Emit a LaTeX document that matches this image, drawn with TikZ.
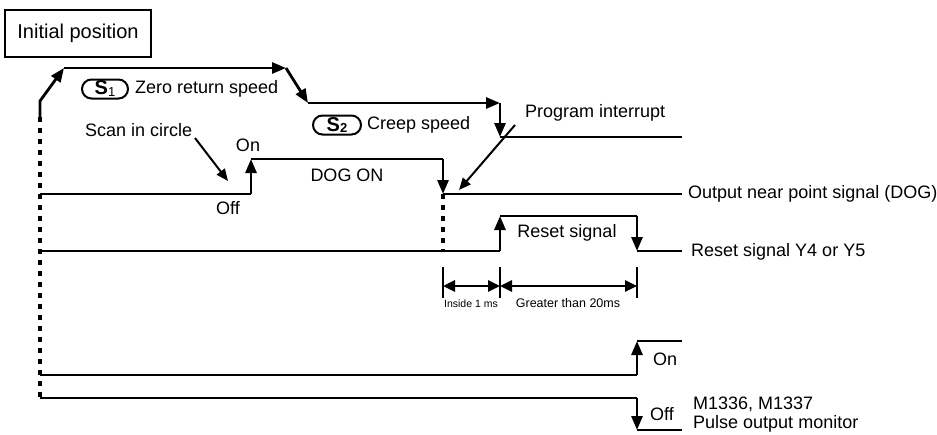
\documentclass[tikz,border=0pt]{standalone}
\usepackage{fontspec}
\setmainfont{Liberation Sans}
\usetikzlibrary{arrows.meta}
\begin{document}
\begin{tikzpicture}[x=1pt,y=-1pt,
  wave/.style={line width=2.8pt, line cap=butt, line join=miter},
  arr/.style={-{Triangle[length=14pt,width=11pt]}},
  darr/.style={{Triangle[length=12pt,width=11pt]}-{Triangle[length=12pt,width=11pt]}},
  dotline/.style={line width=3.2pt, dash pattern=on 5pt off 6pt},
  ptr/.style={line width=2pt, -{Triangle[length=12pt,width=10pt]}},
  lbl/.style={font=\fontsize{18}{20}\selectfont, inner sep=0pt},
  pill/.style={draw, line width=2pt, rounded corners=9.5pt, minimum width=46pt, minimum height=19pt, inner sep=0pt, font=\fontsize{20}{20}\selectfont},
]
\useasboundingbox (0,0) rectangle (937,434);

% initial position box
\node[draw, line width=1.8pt, minimum width=146pt, minimum height=47pt, inner sep=0pt,
  font=\fontsize{20}{22}\selectfont] (init) at (78,33.5) {Initial position};

% speed profile
\coordinate (p0) at (40,117);
\coordinate (p1) at (40,101);
\coordinate (p2) at (64,68);
\coordinate (p3) at (286,68);
\coordinate (p4) at (308,103);
\coordinate (p5) at (500,103);
\coordinate (p6) at (500,137);
\coordinate (p7) at (682,137);
\draw[wave,arr] (p0)--(p1)--(p2);
\draw[wave,arr] (p2)--(p3);
\draw[wave,arr] (p3)--(p4);
\draw[wave,arr] (p4)--(p5);
\draw[wave,arr] (p5)--(p6);
\draw[wave] (p6)--(p7);

% DOG
\coordinate (d0) at (40,194);
\coordinate (d1) at (251,194);
\coordinate (d2) at (251,159);
\coordinate (d3) at (443,159);
\coordinate (d4) at (443,194);
\coordinate (d5) at (682,194);
\draw[wave] (d0)--(d1);
\draw[wave,arr] (d1)--(d2);
\draw[wave] (d2)--(d3);
\draw[wave,arr] (d3)--(d4);
\draw[wave] (d4)--(d5);

% reset
\coordinate (r0) at (40,251);
\coordinate (r1) at (500,251);
\coordinate (r2) at (500,216);
\coordinate (r3) at (637,216);
\coordinate (r4) at (637,251);
\coordinate (r5) at (682,251);
\draw[wave] (r0)--(r1);
\draw[wave,arr] (r1)--(r2);
\draw[wave] (r2)--(r3);
\draw[wave,arr] (r3)--(r4);
\draw[wave] (r4)--(r5);

% on row
\coordinate (o0) at (40,375);
\coordinate (o1) at (637,375);
\coordinate (o2) at (637,341);
\coordinate (o3) at (682,341);
\draw[wave] (o0)--(o1);
\draw[wave,arr] (o1)--(o2);
\draw[wave] (o2)--(o3);

% off row
\coordinate (f0) at (40,398);
\coordinate (f1) at (637,398);
\coordinate (f2) at (637,430);
\coordinate (f3) at (682,430);
\draw[wave] (f0)--(f1);
\draw[wave,arr] (f1)--(f2);
\draw[wave] (f2)--(f3);

% dotted lines
\draw[dotline] (p0)--(f0);
\coordinate (dd) at (443,251);
\draw[dotline] (d4)--(dd);

% timing ticks
\coordinate (t1a) at (443,267); \coordinate (t1b) at (443,298);
\coordinate (t2a) at (500,267); \coordinate (t2b) at (500,298);
\coordinate (t3a) at (637,267); \coordinate (t3b) at (637,298);
\draw[wave] (t1a)--(t1b);
\draw[wave] (t2a)--(t2b);
\draw[wave] (t3a)--(t3b);
\coordinate (m1) at (443,286); \coordinate (m2) at (500,286); \coordinate (m3) at (637,286);
\draw[wave,darr] (m1)--(m2);
\draw[wave,darr] (m2)--(m3);

% labels
\node[pill] (s1) at (105,89) {\textbf{S}\raisebox{-2pt}{\fontsize{13}{13}\selectfont 1}};
\node[lbl, anchor=west] (zrs) at (135,89) {Zero return speed};
\node[pill, minimum width=48pt] (s2) at (337,125) {\textbf{S}\raisebox{-0.5pt}{\fontsize{13}{13}\selectfont\bfseries 2}};
\node[lbl, anchor=west] (cs) at (367,125) {Creep speed};
\node[lbl, anchor=west] (scan) at (85,130) {Scan in circle};
\node[lbl] (on1) at (248,145) {On};
\node[lbl] (off1) at (228,208) {Off};
\node[lbl] (dogon) at (347,175) {DOG ON};
\node[lbl, anchor=west] (pint) at (525,113) {Program interrupt};
\node[lbl, anchor=west] (dogl) at (688,194) {Output near point signal (DOG)};
\node[lbl] (rs) at (567,233) {Reset signal};
\node[lbl, anchor=west] (rsl) at (691,252) {Reset signal Y4 or Y5};
\node[inner sep=0pt, font=\fontsize{10.5}{12}\selectfont] (in1) at (471,304) {Inside 1 ms};
\node[inner sep=0pt, font=\fontsize{12.5}{14}\selectfont] (gt20) at (568,303) {Greater than 20ms};
\node[lbl] (on2) at (665,359) {On};
\node[lbl] (off2) at (662,414) {Off};
\node[lbl, anchor=west] (mm) at (693,404) {M1336, M1337};
\node[lbl, anchor=west] (pom) at (693,424) {Pulse output monitor};

% pointers
\coordinate (scanA) at (195,138);
\coordinate (scanB) at (228,181);
\draw[ptr] (scanA)--(scanB);
\coordinate (pintA) at (515,125);
\coordinate (pintB) at (459,190);
\draw[ptr] (pintA)--(pintB);
\end{tikzpicture}
\end{document}
